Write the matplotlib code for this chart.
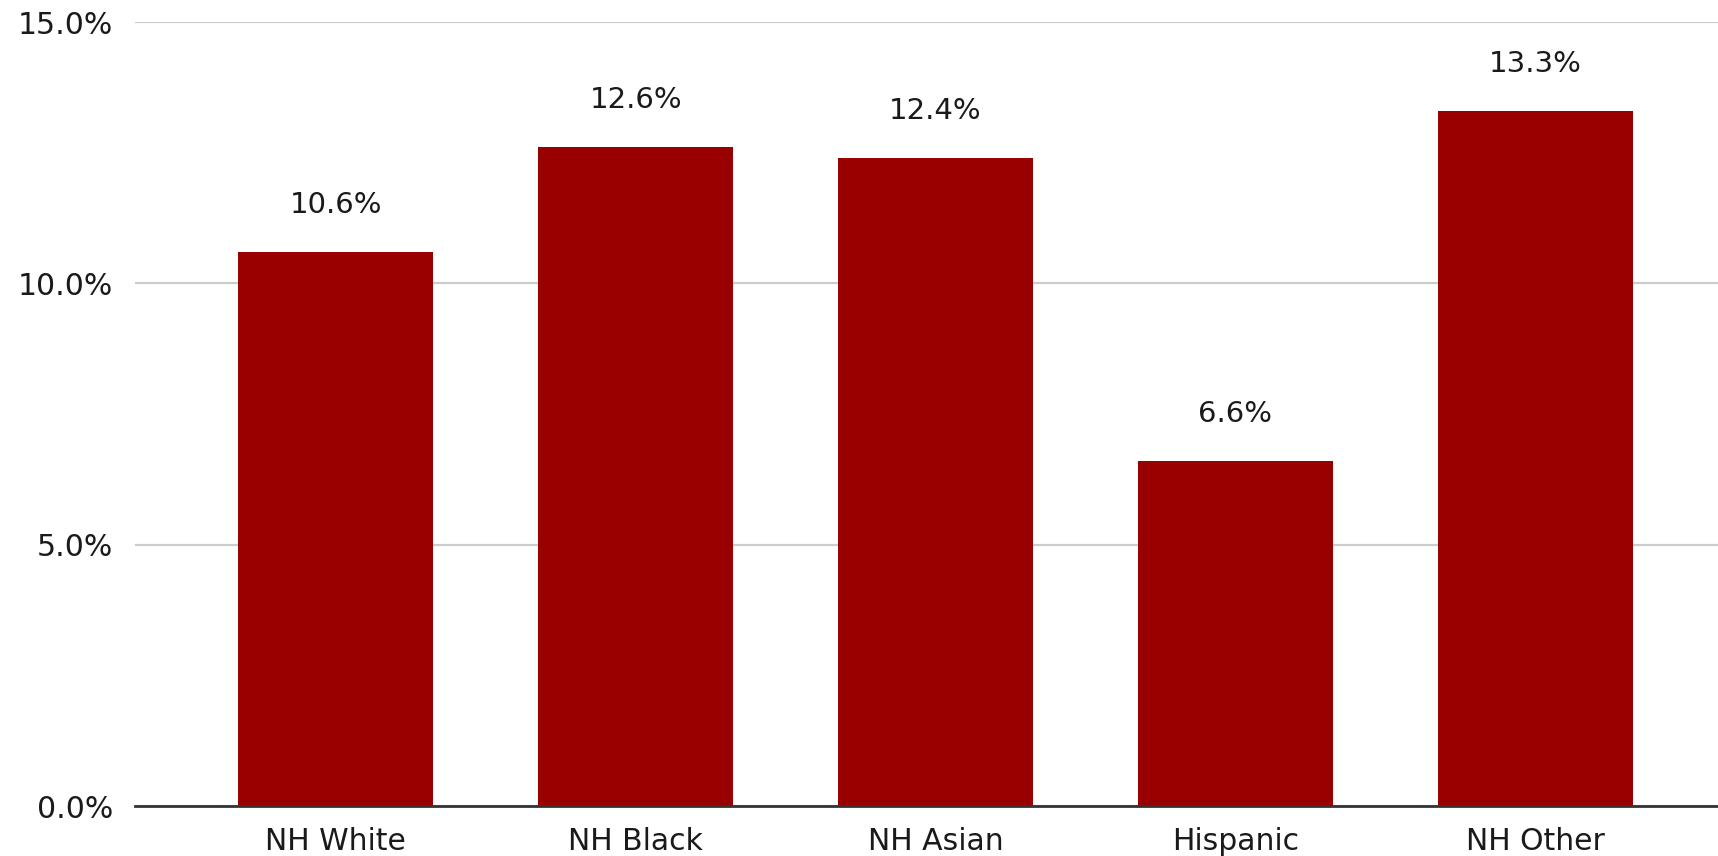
import matplotlib
matplotlib.use("Agg")
import matplotlib.pyplot as plt
from matplotlib.ticker import FuncFormatter

categories = ["NH White", "NH Black", "NH Asian", "Hispanic", "NH Other"]
values = [10.6, 12.6, 12.4, 6.6, 13.3]
yticks = [0, 5, 10, 15]

fig = plt.figure(figsize=(17.18, 8.56), dpi=100)
ax = fig.add_axes([135/1718, 1-806/856, 1-135/1718, (806-22)/856])

x = list(range(len(categories)))
ax.bar(x, values, width=0.65, color="#990000", zorder=3)
for xi, v in zip(x, values):
    ax.annotate(f"{v:.1f}%", (xi, v), xytext=(0, 34), textcoords="offset points",
                ha="center", va="center", fontsize=21, family="DejaVu Sans", color="#1a1a1a")

ax.set_xlim(-0.67, 4.61)
ax.set_ylim(0, 15)
ax.set_yticks(yticks)
ax.yaxis.set_major_formatter(FuncFormatter(lambda v, p: f"{v:.1f}%"))
ax.set_xticks(x)
ax.set_xticklabels(categories)
ax.grid(axis="y", color="#cccccc", linewidth=1.6, zorder=0)
ax.set_axisbelow(True)
for s in ["top", "right", "left"]:
    ax.spines[s].set_visible(False)
ax.spines["bottom"].set_color("#333333")
ax.spines["bottom"].set_linewidth(2)
ax.spines["bottom"].set_zorder(4)
ax.tick_params(axis="both", length=0, labelsize=21.5, colors="#1a1a1a")
ax.tick_params(axis="y", pad=16)
ax.tick_params(axis="x", pad=15)
for lbl in ax.get_xticklabels() + ax.get_yticklabels():
    lbl.set_family("DejaVu Sans")

fig.savefig("out.png", dpi=100)
